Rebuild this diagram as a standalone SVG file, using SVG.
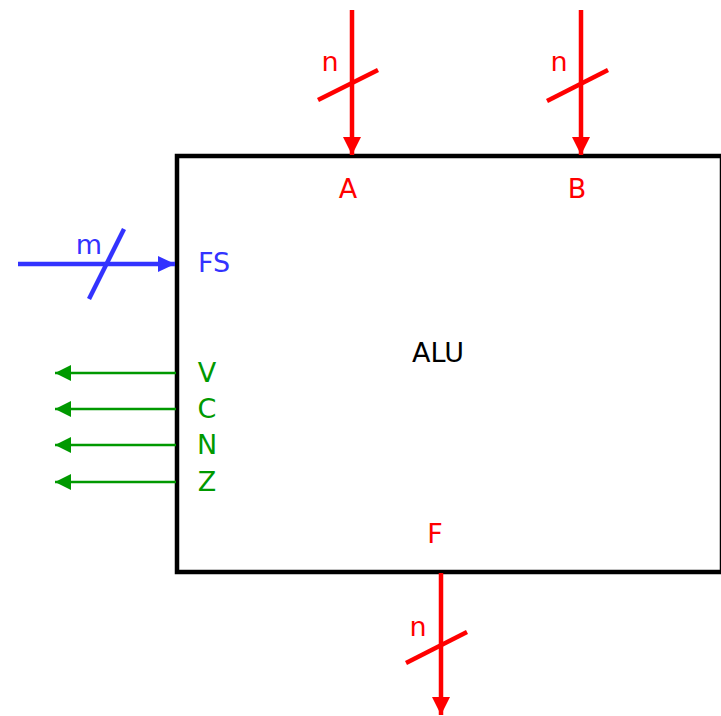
<svg xmlns="http://www.w3.org/2000/svg" width="721" height="716" viewBox="0 0 721 716">
<style>
text{font-family:"DejaVu Sans","Liberation Sans",sans-serif;font-size:27px;text-anchor:middle}
.r{fill:#ff0000}.b{fill:#3333ff}.g{fill:#009900}
.rl{stroke:#ff0000;stroke-width:4.5;fill:none}
.bl{stroke:#3333ff;stroke-width:4.5;fill:none}
.gl{stroke:#009900;stroke-width:2.5;fill:none}
</style>
<defs>
<marker id="ar" markerUnits="userSpaceOnUse" markerWidth="20" markerHeight="20" refX="18" refY="9" orient="auto"><path d="M0,0 L18,9 L0,18 Z" fill="#ff0000"/></marker>
<marker id="ab" markerUnits="userSpaceOnUse" markerWidth="20" markerHeight="20" refX="17" refY="8" orient="auto"><path d="M0,0 L17,8 L0,16 Z" fill="#3333ff"/></marker>
<marker id="ag" markerUnits="userSpaceOnUse" markerWidth="20" markerHeight="20" refX="16" refY="8" orient="auto"><path d="M0,0 L16,8 L0,16 Z" fill="#009900"/></marker>
</defs>
<g id="alu">
<rect x="177" y="156" width="545" height="416" fill="#fff" stroke="#000" stroke-width="4.5"/>
<text x="438" y="362" fill="#000">ALU</text>
<text class="r" x="348" y="198">A</text>
<text class="r" x="577" y="198">B</text>
<text class="r" x="435" y="543">F</text>
<text class="b" x="214" y="272">FS</text>
<text class="g" x="207" y="382">V</text>
<text class="g" x="207" y="418">C</text>
<text class="g" x="207" y="454">N</text>
<text class="g" x="207" y="491">Z</text>
</g>
<g id="connectors">
<line class="rl" x1="352" y1="10" x2="352" y2="155" marker-end="url(#ar)"/>
<line class="rl" x1="318" y1="100" x2="378" y2="70"/>
<text class="r" x="330" y="71">n</text>
<line class="rl" x1="581" y1="10" x2="581" y2="155" marker-end="url(#ar)"/>
<line class="rl" x1="547" y1="101" x2="608" y2="70"/>
<text class="r" x="559" y="71">n</text>
<line class="rl" x1="441" y1="573" x2="441" y2="715" marker-end="url(#ar)"/>
<line class="rl" x1="406" y1="663" x2="467" y2="632"/>
<text class="r" x="418" y="636">n</text>
<line class="bl" x1="18" y1="264" x2="175" y2="264" marker-end="url(#ab)"/>
<line class="bl" x1="89" y1="299" x2="124" y2="229"/>
<text class="b" x="89" y="254">m</text>
<line class="gl" x1="176" y1="373" x2="55" y2="373" marker-end="url(#ag)"/>
<line class="gl" x1="176" y1="409" x2="55" y2="409" marker-end="url(#ag)"/>
<line class="gl" x1="176" y1="445" x2="55" y2="445" marker-end="url(#ag)"/>
<line class="gl" x1="176" y1="482" x2="55" y2="482" marker-end="url(#ag)"/>
</g>
</svg>
